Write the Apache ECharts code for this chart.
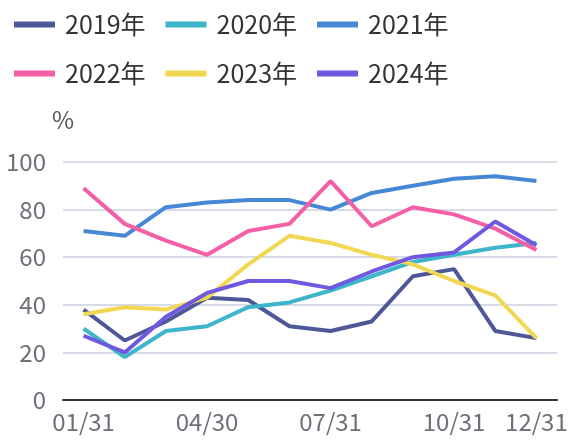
<!DOCTYPE html>
<html>
<head>
<meta charset="utf-8">
<script src="https://cdn.jsdelivr.net/npm/echarts@6/dist/echarts.min.js"></script>
<style>
  html, body { margin: 0; padding: 0; background: #fff; }
  #chart { width: 577px; height: 441px; }
</style>
</head>
<body>
<div id="chart"></div>
<script>
// 月末日期
var categories = ["01/31", "02/28", "03/31", "04/30", "05/31", "06/30", "07/31", "08/31", "09/30", "10/31", "11/30", "12/31"];
var yearNames = ["2019年", "2020年", "2021年", "2022年", "2023年", "2024年"];
var data2019 = [38, 25, 33, 43, 42, 31, 29, 33, 52, 55, 29, 26];
var data2020 = [30, 18, 29, 31, 39, 41, 46, 52, 58, 61, 64, 66];
var data2021 = [71, 69, 81, 83, 84, 84, 80, 87, 90, 93, 94, 92];
var data2022 = [89, 74, 67, 61, 71, 74, 92, 73, 81, 78, 72, 63];
var data2023 = [36, 39, 38, 43, 57, 69, 66, 61, 57, 50, 44, 26];
var data2024 = [27, 20, 35, 45, 50, 50, 47, 54, 60, 62, 75, 65];
var yTicks = [0, 20, 40, 60, 80, 100];

var colors = ["#4e5798", "#3db5ca", "#4688d6", "#f45fa6", "#f2d752", "#7059e0"];
var allData = [data2019, data2020, data2021, data2022, data2023, data2024];
var font = "'Noto Sans CJK SC', 'Noto Sans', sans-serif";

var chart = echarts.init(document.getElementById("chart"));

var series = yearNames.map(function (name, i) {
  return {
    name: name,
    type: "line",
    data: allData[i],
    symbol: "none",
    lineStyle: { width: 4, color: colors[i] },
    itemStyle: { color: colors[i] }
  };
});

function legendOf(names, top) {
  return {
    data: names,
    left: 14,
    top: top,
    padding: 0,
    icon: "rect",
    itemWidth: 41,
    itemHeight: 6,
    itemGap: 20,
    textStyle: { fontSize: 25, color: "#333", fontFamily: font, padding: [0, 0, 0, 5] }
  };
}

var option = {
  animation: false,
  color: colors,
  legend: [legendOf(yearNames.slice(0, 3), 12), legendOf(yearNames.slice(3), 61)],
  grid: { left: 63, right: 20, top: 162, bottom: 41 },
  xAxis: {
    type: "category",
    data: categories,
    boundaryGap: true,
    axisLine: { lineStyle: { color: "#333", width: 2 } },
    axisTick: { length: 8, lineStyle: { color: "#333", width: 2 } },
    axisLabel: {
      interval: function (index) { return index % 3 === 0 || index === categories.length - 1; },
      fontSize: 24,
      color: "#6e7079",
      fontFamily: font,
      margin: 10
    }
  },
  yAxis: {
    type: "value",
    name: "%",
    nameLocation: "end",
    nameGap: 30,
    nameTextStyle: { fontSize: 24, color: "#555", fontFamily: font, align: "center" },
    min: yTicks[0],
    max: yTicks[yTicks.length - 1],
    interval: 20,
    axisLine: { show: false },
    axisTick: { show: false },
    axisLabel: { fontSize: 24, color: "#6e7079", fontFamily: font, margin: 17 },
    splitLine: { lineStyle: { color: "#d8dbe6", width: 2 } }
  },
  series: series
};

chart.setOption(option);
</script>
</body>
</html>
